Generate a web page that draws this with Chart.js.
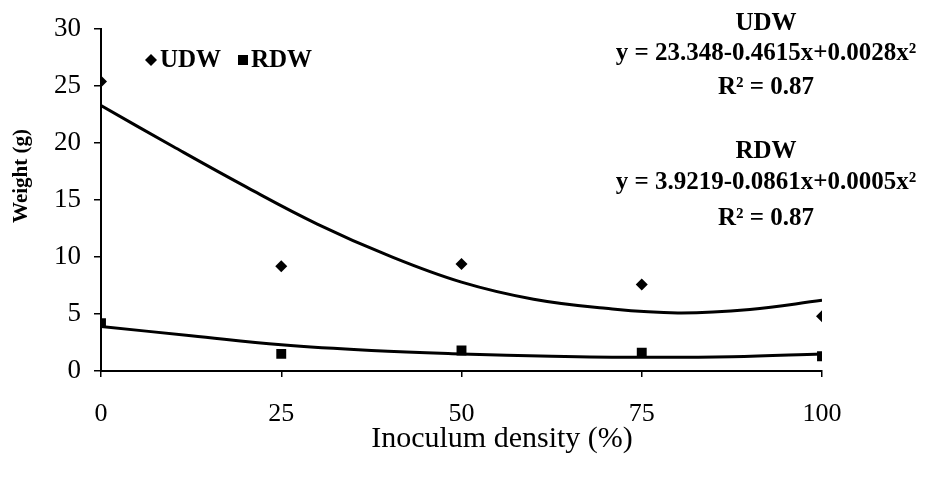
<!DOCTYPE html>
<html><head><meta charset="utf-8">
<script src="https://cdn.jsdelivr.net/npm/chart.js@4"></script>
<style>html,body{margin:0;padding:0;background:#fff}#wrap{width:935px;height:480px}</style>
</head><body><div id="wrap"><canvas id="c" width="935" height="480"></canvas></div>
<script>
// Observed data
const densities = [0, 25, 50, 75, 100];
const udw = [25.4, 9.2, 9.4, 7.6, 4.8];
const rdw = [4.2, 1.5, 1.8, 1.6, 1.3];
// Fitted curves
const udwFitX = [0, 10, 20, 30, 40, 50, 60, 70, 80, 90, 100];
const udwFitY = [23.3, 19.7, 16.2, 12.9, 10.1, 7.8, 6.3, 5.5, 5.1, 5.4, 6.2];
const rdwFitX = [0, 12.5, 25, 37.5, 50, 62.5, 75, 87.5, 100];
const rdwFitY = [3.9, 3.1, 2.3, 1.8, 1.5, 1.3, 1.2, 1.25, 1.5];
const yTicks = [0, 5, 10, 15, 20, 25, 30];
const xTicks = [0, 25, 50, 75, 100];
const xTitle = 'Inoculum density (%)';
const yTitle = 'Weight (g)';
const annotations = [
  ["UDW", "y = 23.348-0.4615x+0.0028x²", "R² = 0.87"],
  ["RDW", "y = 3.9219-0.0861x+0.0005x²", "R² = 0.87"]
];

const SERIF = "'Liberation Serif', 'Times New Roman', serif";
const pts = (xs, ys) => xs.map((x, i) => ({x: x, y: ys[i]}));

const overlay = {
  id: 'overlay',
  afterDraw(chart) {
    const ctx = chart.ctx;
    ctx.save();
    ctx.fillStyle = '#000';
    // legend
    const ly = 60;
    ctx.beginPath();
    ctx.moveTo(151, ly - 6); ctx.lineTo(157, ly); ctx.lineTo(151, ly + 6); ctx.lineTo(145, ly); ctx.closePath();
    ctx.fill();
    ctx.fillRect(238, ly - 5, 10, 10);
    ctx.font = "bold 25px " + SERIF;
    ctx.textBaseline = 'middle';
    ctx.textAlign = 'left';
    ctx.fillText(annotations[0][0], 160, ly + 1);
    ctx.fillText(annotations[1][0], 251, ly + 1);
    // equations
    ctx.textAlign = 'center';
    const ys = [[24, 54, 88], [152, 183, 219]];
    annotations.forEach((lines, i) => {
      lines.forEach((t, j) => {
        ctx.fillText(t, 766, ys[i][j]);
      });
    });
    // axis titles
    ctx.font = "30px " + SERIF;
    ctx.fillText(xTitle, 502, 439);
    ctx.translate(22, 176);
    ctx.rotate(-Math.PI / 2);
    ctx.font = "bold 21px " + SERIF;
    ctx.fillText(yTitle, 0, 0);
    ctx.restore();
  }
};

new Chart(document.getElementById('c'), {
  type: 'scatter',
  data: {
    datasets: [
      {label: 'UDW', data: pts(densities, udw), pointStyle: 'rectRot', pointRadius: 6,
       backgroundColor: '#000', borderColor: '#000', borderWidth: 0, showLine: false},
      {label: 'RDW', data: pts(densities, rdw), pointStyle: 'rect', pointRadius: 7,
       backgroundColor: '#000', borderColor: '#000', borderWidth: 0, showLine: false},
      {label: 'UDW fit', data: pts(udwFitX, udwFitY), showLine: true, pointRadius: 0,
       borderColor: '#000', borderWidth: 3, tension: 0.4, fill: false},
      {label: 'RDW fit', data: pts(rdwFitX, rdwFitY), showLine: true, pointRadius: 0,
       borderColor: '#000', borderWidth: 3, tension: 0.4, fill: false}
    ]
  },
  options: {
    responsive: false,
    animation: false,
    layout: {padding: {top: 25, right: 113, bottom: 0, left: 0}},
    plugins: {legend: {display: false}, tooltip: {enabled: false}},
    scales: {
      x: {
        type: 'linear', min: 0, max: 100,
        afterBuildTicks: s => { s.ticks = xTicks.map(v => ({value: v})); },
        afterFit: s => { s.height = 109; },
        border: {color: '#000', width: 2},
        grid: {drawOnChartArea: false, color: '#000', tickLength: 6, lineWidth: 1.5},
        ticks: {color: '#000', padding: 22, font: {family: SERIF, size: 26}},
        title: {display: false}
      },
      y: {
        min: 0, max: 30,
        afterBuildTicks: s => { s.ticks = yTicks.map(v => ({value: v})); },
        afterFit: s => { s.width = 101; },
        border: {color: '#000', width: 2},
        grid: {drawOnChartArea: false, color: '#000', tickLength: 7, lineWidth: 1.5},
        ticks: {color: '#000', padding: 13, font: {family: SERIF, size: 27}},
        title: {display: false}
      }
    }
  },
  plugins: [overlay]
});
</script></body></html>
